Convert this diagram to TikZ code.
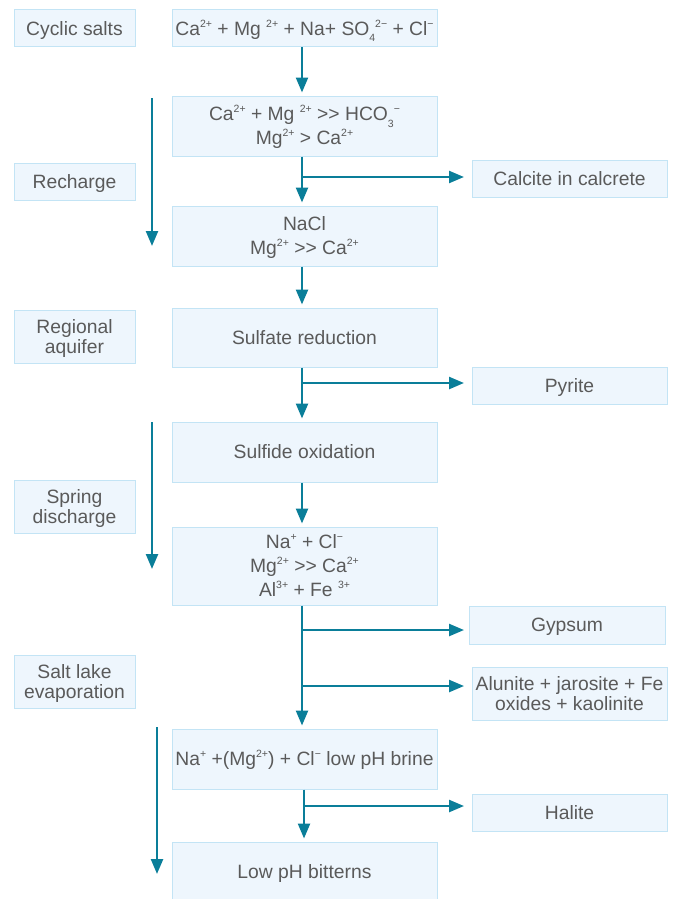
\documentclass[tikz,border=0pt]{standalone}
\usepackage{fontspec}
\setmainfont{Liberation Sans}[Ligatures=TeXOff]
\usetikzlibrary{arrows.meta}
\definecolor{boxfill}{HTML}{EEF6FD}
\definecolor{boxline}{HTML}{C3E4F5}
\definecolor{arrcol}{HTML}{0A7E99}
\definecolor{txtcol}{HTML}{5A5A5A}
\newcommand\upx[1]{\raisebox{0.42em}{\fontsize{10.5}{10.5}\selectfont #1}}
\newcommand\dnx[1]{\raisebox{-0.32em}{\fontsize{10.5}{10.5}\selectfont #1}}
\begin{document}
\begin{tikzpicture}[x=1pt,y=-1pt,
  box/.style={draw=boxline, fill=boxfill, line width=1pt, inner sep=0pt,
    align=center, text=txtcol, font=\fontsize{19.3}{24}\selectfont,
    text height=13.8pt, text depth=0pt},
  two/.style={text height=37.8pt},
  three/.style={text height=61.8pt},
  side/.style={font=\fontsize{19.3}{20}\selectfont, text height=33.8pt},
  arr/.style={draw=arrcol, line width=2.4pt, -{Triangle[length=15pt,width=12pt]}}]
\useasboundingbox (0,0) rectangle (676,899);
% left labels
\node[box, minimum width=121pt, minimum height=37pt] (cyc) at (74.5,28.5) {Cyclic salts};
\node[box, minimum width=121pt, minimum height=37pt] (rech) at (74.5,181.5) {Recharge};
\node[box, side, minimum width=121pt, minimum height=53pt] (reg) at (74.5,336.5) {Regional\\aquifer};
\node[box, side, minimum width=121pt, minimum height=53pt] (spr) at (74.5,506.5) {Spring\\discharge};
\node[box, side, minimum width=121pt, minimum height=53pt] (salt) at (74.5,681.5) {Salt lake\\evaporation};
% centre column
\node[box, minimum width=265pt, minimum height=37pt] (b1) at (304.5,28.5)
  {Ca\upx{2+} + Mg \upx{2+} + Na+ SO\dnx{4}\upx{2−} + Cl\upx{−}};
\node[box, two, minimum width=265pt, minimum height=60pt] (b2) at (304.5,126)
  {Ca\upx{2+} + Mg \upx{2+} >> HCO\dnx{3}\upx{−}\\Mg\upx{2+} > Ca\upx{2+}};
\node[box, two, minimum width=265pt, minimum height=60pt] (b3) at (304.5,236)
  {NaCl\\Mg\upx{2+} >> Ca\upx{2+}};
\node[box, minimum width=265pt, minimum height=59pt] (b4) at (304.5,337.5) {Sulfate reduction};
\node[box, minimum width=265pt, minimum height=60pt] (b5) at (304.5,452) {Sulfide oxidation};
\node[box, three, minimum width=265pt, minimum height=78pt] (b6) at (304.5,566)
  {Na\upx{+} + Cl\upx{−}\\Mg\upx{2+} >> Ca\upx{2+}\\Al\upx{3+} + Fe \upx{3+}};
\node[box, minimum width=265pt, minimum height=60pt] (b7) at (304.5,759)
  {Na\upx{+} +(Mg\upx{2+}) + Cl\upx{−} low pH brine};
\node[box, minimum width=265pt, minimum height=60pt] (b8) at (304.5,872) {Low pH bitterns};
% right column
\node[box, minimum width=195pt, minimum height=37pt] (calc) at (569.5,178.5) {Calcite in calcrete};
\node[box, minimum width=195pt, minimum height=37pt] (pyr) at (569.5,385.5) {Pyrite};
\node[box, minimum width=196pt, minimum height=38pt] (gyp) at (567,625) {Gypsum};
\node[box, side, minimum width=195pt, minimum height=53pt] (alu) at (569.5,693.5) {Alunite + jarosite + Fe\\oxides + kaolinite};
\node[box, minimum width=195pt, minimum height=37pt] (hal) at (569.5,812.5) {Halite};
% reference coordinates
\coordinate (mx) at (302,0);
\coordinate (mx2) at (304,0);
\coordinate (ex) at (464,0);
% main flow
\draw[arr, shorten >=3pt] (b1.south -| mx) -- (b2.north -| mx);
\draw[arr, shorten >=3pt] (b2.south -| mx) -- (b3.north -| mx);
\draw[arr, shorten >=3pt] (b3.south -| mx) -- (b4.north -| mx);
\draw[arr, shorten >=3pt] (b4.south -| mx) -- (b5.north -| mx);
\draw[arr, shorten >=3pt] (b5.south -| mx) -- (b6.north -| mx);
\draw[arr, shorten >=3pt] (b6.south -| mx) -- (b7.north -| mx);
\draw[arr, shorten >=3pt] (b7.south -| mx2) -- (b8.north -| mx2);
% branches
\coordinate (br1) at (302,177);
\coordinate (br2) at (302,383);
\coordinate (br3) at (302,630);
\coordinate (br4) at (302,686);
\coordinate (br5) at (304,806);
\draw[arr] (br1) -- (br1 -| ex);
\draw[arr] (br2) -- (br2 -| ex);
\draw[arr] (br3) -- (br3 -| ex);
\draw[arr] (br4) -- (br4 -| ex);
\draw[arr] (br5) -- (br5 -| ex);
% left stage arrows
\coordinate (l1a) at (152,98);  \coordinate (l1b) at (152,246);
\coordinate (l2a) at (152,422); \coordinate (l2b) at (152,569);
\coordinate (l3a) at (157,727); \coordinate (l3b) at (157,874);
\draw[arr] (l1a) -- (l1b);
\draw[arr] (l2a) -- (l2b);
\draw[arr] (l3a) -- (l3b);
\end{tikzpicture}
\end{document}
